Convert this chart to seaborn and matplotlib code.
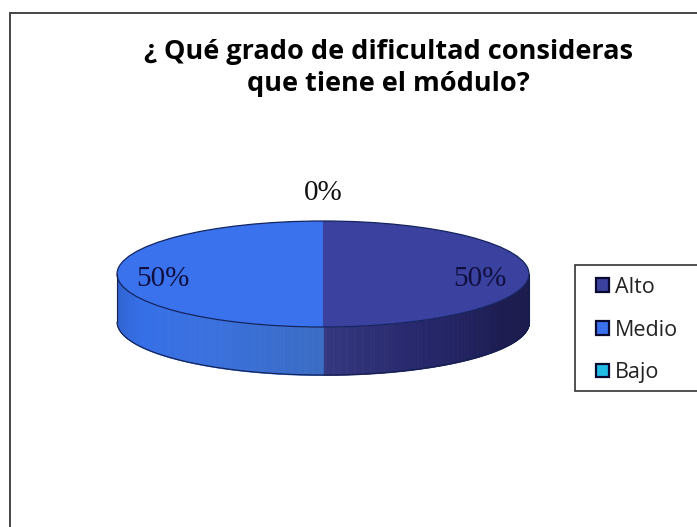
import numpy as np
import seaborn as sns
import matplotlib.pyplot as plt
from matplotlib.colors import LinearSegmentedColormap
from matplotlib.patches import Ellipse, Patch, Rectangle

# datos del grafico
categorias = ['Alto', 'Medio', 'Bajo']
valores = [50, 50, 0]
colores = ['#3B419F', '#3A72EE', '#22BDE6']
titulo = '¿ Qué grado de dificultad consideras\nque tiene el módulo?'

# degradado del lateral, de izquierda a derecha en cada sector
lateral = {
    'Medio': ['#2F5FC8', '#3670E8', '#3A70DC', '#3A6CC4'],
    'Alto': ['#35377F', '#25266A', '#1D1D52', '#1C1C4C'],
}

sns.set_theme(style='white')
plt.rcParams['font.family'] = ['Open Sans', 'DejaVu Sans']

W, H = 697, 527
fig = plt.figure(figsize=(W / 100, H / 100), dpi=100, facecolor='white')

# marco exterior, se sale de la imagen por la derecha y por abajo
fig.add_artist(Rectangle((10 / W, -0.05), 1, 1.05 - 13 / H, transform=fig.transFigure,
                         fill=False, edgecolor='#444444', linewidth=1.4))

fig.text(388 / W, 1 - 68 / H, titulo, ha='center', va='center', fontsize=19.5,
         fontweight='bold', color='black', linespacing=1.33)

# ejes de la tarta: elipse superior 117-529 x 221-327, grosor 48 px
rx, ry, grosor = 206, 53, 48
ax = fig.add_axes([117 / W, 1 - 375 / H, 2 * rx / W, (2 * ry + grosor) / H])

paleta = sns.color_palette(colores)
wedges, textos, autotextos = ax.pie(valores, colors=paleta, startangle=90, counterclock=False,
                                    autopct='%1.0f%%', pctdistance=0.77,
                                    wedgeprops={'linewidth': 0},
                                    textprops={'family': ['Liberation Serif'], 'fontsize': 21,
                                               'color': '#101040'})
ax.set_aspect('auto')
ax.set_xlim(-1, 1)
ax.set_ylim(-1 - grosor / ry, 1)
for w in wedges:
    w.set_clip_on(False)

# posicion de las etiquetas
for t in autotextos:
    x, y = t.get_position()
    t.set_position((x - 0.008, y - 0.1))
autotextos[2].set_position((0, 1.53))
autotextos[2].set_color('#111111')

# lateral 3D a partir de los angulos de cada sector
prof = grosor / ry
angulo = 90.0
total = sum(valores)
for cat, val in zip(categorias, valores):
    fin = angulo - 360 * val / total
    if val > 0:
        t = np.radians(np.linspace(angulo, fin, 400))
        t = t[np.sin(t) <= 0]
        xs = np.cos(t)
        orden = np.argsort(xs)
        xs, ys = xs[orden], np.sin(t)[orden]
        cmap = LinearSegmentedColormap.from_list(cat, lateral[cat])
        for i in range(len(xs) - 1):
            c = cmap(i / (len(xs) - 2))
            ax.fill_between(xs[i:i + 2], ys[i:i + 2], ys[i:i + 2] - prof, color=c,
                            linewidth=0.6, antialiased=False, zorder=0.5, clip_on=False)
        ax.plot(xs, ys - prof, color='#14204F', linewidth=0.8, zorder=3, clip_on=False)
    angulo = fin

ax.add_patch(Ellipse((0, 0), 2, 2, fill=False, edgecolor='#13245F', linewidth=0.9,
                     zorder=3, clip_on=False))
ax.plot([-1, -1], [0, -prof], color='#14204F', linewidth=0.8, clip_on=False, zorder=3)
ax.plot([1, 1], [0, -prof], color='#14204F', linewidth=0.8, clip_on=False, zorder=3)

# leyenda
fig.add_artist(Rectangle((575 / W, 1 - 391 / H), 200 / W, 126 / H, transform=fig.transFigure,
                         facecolor='white', edgecolor='#333333', linewidth=1.2))
handles = [Patch(facecolor=c, edgecolor='#0A0A30', linewidth=1.6) for c in paleta]
fig.legend(handles, categorias, loc='upper left', bbox_to_anchor=(596 / W, 1 - 277 / H),
           frameon=False, fontsize=15.5, labelspacing=1.0, handlelength=0.62, handleheight=0.62,
           handletextpad=0.25, borderpad=0, borderaxespad=0, labelcolor='#222222')

fig.savefig('out.png', dpi=100, facecolor='white')
